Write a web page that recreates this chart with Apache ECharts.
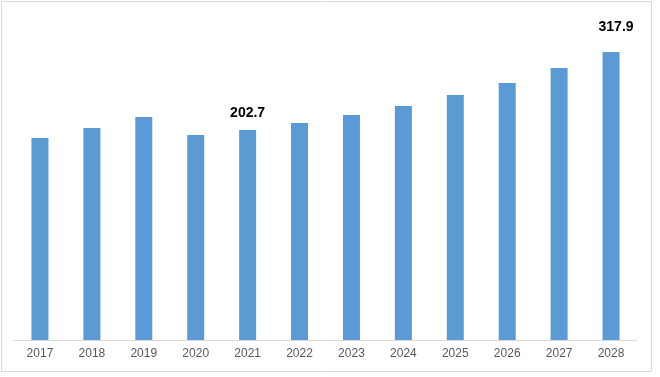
<!DOCTYPE html>
<html>
<head>
<meta charset="utf-8">
<script src="https://cdn.jsdelivr.net/npm/echarts@6/dist/echarts.min.js"></script>
<style>
  html, body { margin: 0; padding: 0; background: #fff; }
  #chart { width: 660px; height: 377px; }
</style>
</head>
<body>
<div id="chart"></div>
<script>
// 数据
const years = ['2017', '2018', '2019', '2020', '2021', '2022', '2023', '2024', '2025', '2026', '2027', '2028'];
const values = [223.0, 234.0, 246.1, 226.3, 231.8, 239.5, 248.4, 258.3, 270.4, 283.7, 300.2, 317.9];
// 只在两根柱子上显示的数值标签
const labelTexts = ['', '', '', '', '202.7', '', '', '', '', '', '', '317.9'];

const labelStyle = {
  4: { distance: 10, offset: [0, 0] },
  11: { distance: 18, offset: [5, 0] }
};

const myChart = echarts.init(document.getElementById('chart'));

const seriesData = values.map((v, i) => {
  const item = { value: v };
  if (labelTexts[i]) {
    item.label = Object.assign({
      show: true,
      position: 'top',
      formatter: labelTexts[i]
    }, labelStyle[i]);
  }
  return item;
});

myChart.setOption({
  animation: false,
  graphic: [{
    type: 'rect',
    shape: { x: 1.5, y: 1.5, width: 650, height: 370 },
    style: { fill: 'none', stroke: '#d9d9d9', lineWidth: 1 },
    z: -1
  }],
  grid: { left: 14, right: 23, top: 32, bottom: 37 },
  xAxis: {
    type: 'category',
    data: years,
    axisLine: { lineStyle: { color: '#d9d9d9' } },
    axisTick: { show: false },
    axisLabel: { color: '#595959', fontSize: 12, margin: 8, fontFamily: 'Liberation Sans, Arial, sans-serif' }
  },
  yAxis: {
    type: 'value',
    min: 0,
    max: 340,
    show: false,
    splitLine: { show: false }
  },
  series: [{
    type: 'bar',
    data: seriesData,
    barWidth: 17,
    itemStyle: { color: '#5b9bd5' },
    label: {
      show: false,
      color: '#000',
      fontWeight: 'bold',
      fontSize: 14,
      fontFamily: 'Liberation Sans, Arial, sans-serif'
    }
  }]
});
</script>
</body>
</html>
